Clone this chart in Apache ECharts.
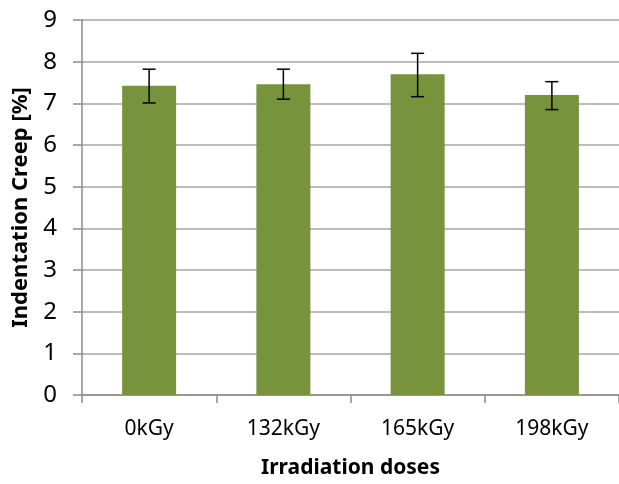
<!DOCTYPE html>
<html><head><meta charset="utf-8">
<script src="https://cdn.jsdelivr.net/npm/echarts@6/dist/echarts.min.js"></script>
<style>html,body{margin:0;padding:0;background:#fff}#c{width:619px;height:484px}</style>
</head><body><div id="c"></div>
<script>
const categories = ['0kGy', '132kGy', '165kGy', '198kGy'];
const creepValues = [7.42, 7.46, 7.70, 7.20];
const errorLow = [7.01, 7.10, 7.16, 6.85];
const errorHigh = [7.82, 7.82, 8.20, 7.52];
const yTicks = [0, 1, 2, 3, 4, 5, 6, 7, 8, 9];

const font = 'Noto Sans';
const chart = echarts.init(document.getElementById('c'), null, {renderer: 'canvas'});
chart.setOption({
  animation: false,
  backgroundColor: '#fff',
  grid: {left: 82, right: -5, top: 20, bottom: 89, containLabel: false},
  xAxis: {
    type: 'category', data: categories,
    name: 'Irradiation doses', nameLocation: 'middle', nameGap: 63,
    nameTextStyle: {fontFamily: font, fontWeight: 'bold', fontSize: 21, color: '#000'},
    axisLine: {lineStyle: {color: '#8c8c8c', width: 1.5}},
    axisTick: {show: true, length: 8, lineStyle: {color: '#8c8c8c', width: 1.5}},
    axisLabel: {fontFamily: font, fontSize: 21, color: '#000', margin: 24}
  },
  yAxis: {
    type: 'value', min: yTicks[0], max: yTicks[yTicks.length - 1], interval: 1,
    name: 'Indentation Creep [%]', nameLocation: 'middle', nameGap: 50, nameRotate: 90,
    nameTextStyle: {fontFamily: font, fontWeight: 'bold', fontSize: 22, color: '#000'},
    axisLine: {show: true, lineStyle: {color: '#8c8c8c', width: 1.5}},
    axisTick: {show: true, length: 9, lineStyle: {color: '#8c8c8c', width: 1.5}},
    axisLabel: {fontFamily: font, fontSize: 24, color: '#000', margin: 25},
    splitLine: {show: true, lineStyle: {color: '#a6a6a6', width: 1.5}}
  },
  series: [
    {
      type: 'bar', data: creepValues, barWidth: 54,
      itemStyle: {color: '#77933c'}
    },
    {
      type: 'custom',
      data: categories.map((c, i) => [i, errorLow[i], errorHigh[i]]),
      renderItem: function (params, api) {
        const x = api.value(0);
        const lo = api.coord([x, api.value(1)]);
        const hi = api.coord([x, api.value(2)]);
        const hw = 6.5;
        const st = {stroke: '#000', lineWidth: 1.5};
        return {type: 'group', children: [
          {type: 'line', shape: {x1: lo[0], y1: lo[1], x2: hi[0], y2: hi[1]}, style: st},
          {type: 'line', shape: {x1: lo[0] - hw, y1: lo[1], x2: lo[0] + hw, y2: lo[1]}, style: st},
          {type: 'line', shape: {x1: hi[0] - hw, y1: hi[1], x2: hi[0] + hw, y2: hi[1]}, style: st}
        ]};
      },
      z: 10
    }
  ]
});
</script></body></html>
